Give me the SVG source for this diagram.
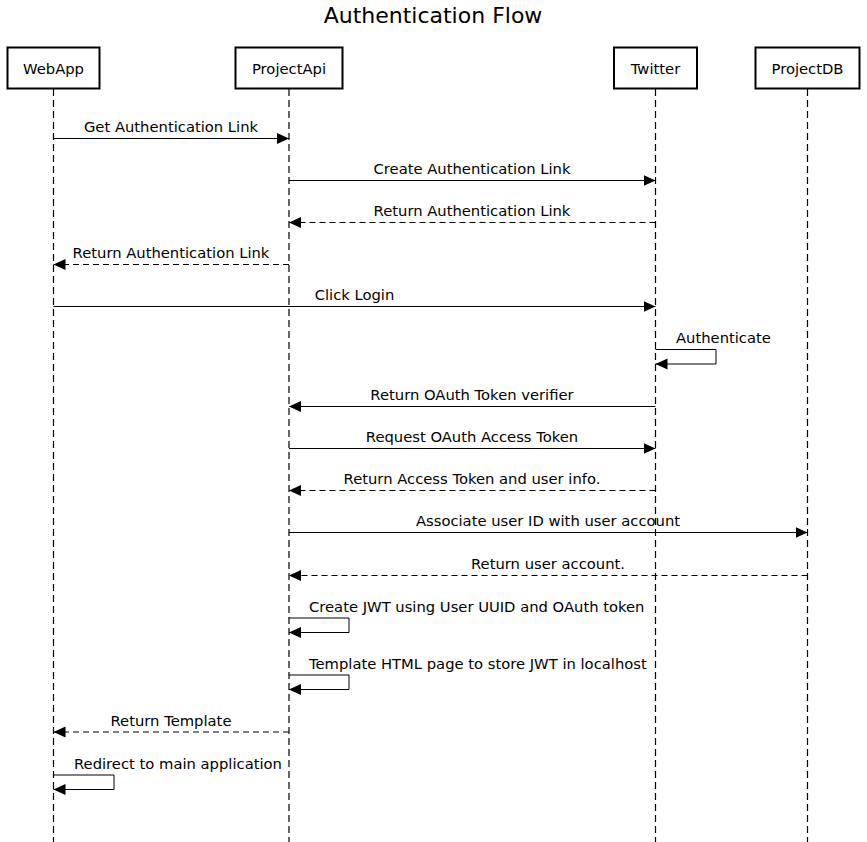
<svg xmlns="http://www.w3.org/2000/svg" width="867" height="842" viewBox="0 0 867 842">
<style>
text{font-family:"DejaVu Sans","Liberation Sans",sans-serif;font-size:14.75px;fill:#000}
.title{font-size:22px}
.box{fill:#fff;stroke:#000;stroke-width:2}
.life{stroke:#000;stroke-width:1.2;stroke-dasharray:7,4;fill:none}
.msg{stroke:#000;stroke-width:1;fill:none;marker-end:url(#ah)}
.dash{stroke-dasharray:6,4}
.c{text-anchor:middle}
</style>
<defs>
<marker id="ah" markerUnits="userSpaceOnUse" markerWidth="13" markerHeight="12" refX="12" refY="5.5" orient="auto">
<path d="M0,0 L12,5.5 L0,11 z" fill="#000" stroke="none"/>
</marker>
</defs>
<rect width="867" height="842" fill="#fff"/>
<text class="title c" x="433" y="22.5">Authentication Flow</text>
<g id="lifelines">
<line class="life" x1="53.5" y1="89" x2="53.5" y2="842"/>
<line class="life" x1="289" y1="89" x2="289" y2="842"/>
<line class="life" x1="655.5" y1="89" x2="655.5" y2="842"/>
<line class="life" x1="807.5" y1="89" x2="807.5" y2="842"/>
</g>
<g id="WebApp"><rect class="box" x="7.5" y="47.5" width="92" height="41"/><text class="c" x="53.5" y="74">WebApp</text></g>
<g id="ProjectApi"><rect class="box" x="235.5" y="47.5" width="107" height="41"/><text class="c" x="289" y="74">ProjectApi</text></g>
<g id="Twitter"><rect class="box" x="614" y="47.5" width="83" height="41"/><text class="c" x="655.5" y="74">Twitter</text></g>
<g id="ProjectDB"><rect class="box" x="755.5" y="47.5" width="104" height="41"/><text class="c" x="807.5" y="74">ProjectDB</text></g>
<g id="connectors">
<line class="msg" x1="53.5" y1="138.5" x2="289" y2="138.5"/>
<text class="c" x="171" y="132">Get Authentication Link</text>
<line class="msg" x1="289" y1="180.5" x2="655.5" y2="180.5"/>
<text class="c" x="472" y="174">Create Authentication Link</text>
<line class="msg dash" x1="655.5" y1="222.5" x2="289" y2="222.5"/>
<text class="c" x="472" y="216">Return Authentication Link</text>
<line class="msg dash" x1="289" y1="264.5" x2="53.5" y2="264.5"/>
<text class="c" x="171" y="258">Return Authentication Link</text>
<line class="msg" x1="53.5" y1="306.5" x2="655.5" y2="306.5"/>
<text class="c" x="354.5" y="300">Click Login</text>
<polyline class="msg" points="655.5,349.5 716,349.5 716,364 655.5,364"/>
<text x="676" y="343">Authenticate</text>
<line class="msg" x1="655.5" y1="406.5" x2="289" y2="406.5"/>
<text class="c" x="472" y="400">Return OAuth Token verifier</text>
<line class="msg" x1="289" y1="448.5" x2="655.5" y2="448.5"/>
<text class="c" x="472" y="442">Request OAuth Access Token</text>
<line class="msg dash" x1="655.5" y1="490.5" x2="289" y2="490.5"/>
<text class="c" x="472" y="484">Return Access Token and user info.</text>
<line class="msg" x1="289" y1="532.5" x2="807.5" y2="532.5"/>
<text class="c" x="548" y="526">Associate user ID with user account</text>
<line class="msg dash" x1="807.5" y1="575.5" x2="289" y2="575.5"/>
<text class="c" x="548" y="569">Return user account.</text>
<polyline class="msg" points="289,618 349,618 349,632.5 289,632.5"/>
<text x="309" y="612">Create JWT using User UUID and OAuth token</text>
<polyline class="msg" points="289,675 349,675 349,689.5 289,689.5"/>
<text x="309" y="669">Template HTML page to store JWT in localhost</text>
<line class="msg dash" x1="289" y1="732" x2="53.5" y2="732"/>
<text class="c" x="171" y="726">Return Template</text>
<polyline class="msg" points="53.5,775 114,775 114,789.5 53.5,789.5"/>
<text x="74" y="769">Redirect to main application</text>
</g>
</svg>
